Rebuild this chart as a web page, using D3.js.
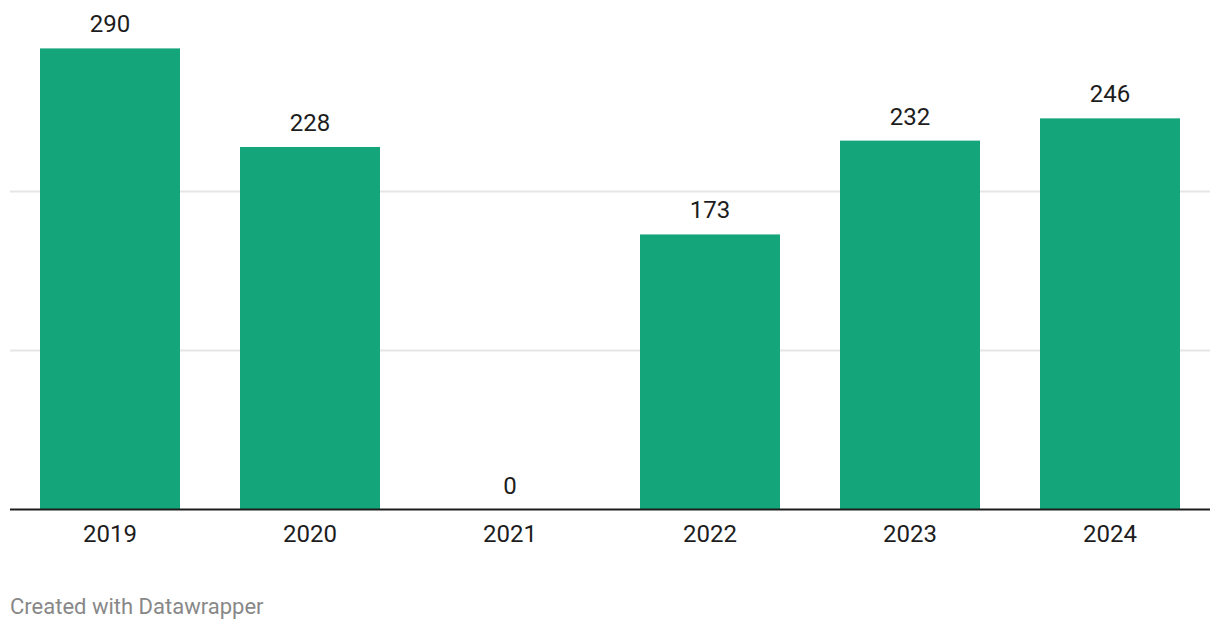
<!DOCTYPE html>
<html>
<head>
<meta charset="utf-8">
<script src="https://cdn.jsdelivr.net/npm/d3@7"></script>
<style>
  html, body { margin: 0; padding: 0; background: #fff; }
  svg { display: block; font-family: Roboto, "Noto Sans", sans-serif; }
</style>
</head>
<body>
<svg id="chart" width="1220" height="630"></svg>
<script>
const categories = ["2019", "2020", "2021", "2022", "2023", "2024"];
const values = [290, 228, 0, 173, 232, 246];
const gridTicks = [100, 200];
const credit = "Created with Datawrapper";

const svg = d3.select("#chart");
const x = d3.scaleBand().domain(categories).range([10, 1210]).paddingInner(0.3).paddingOuter(0.15);
const y = d3.scaleLinear().domain([0, 100]).range([509.5, 350.5]);

svg.append("g").selectAll("line").data(gridTicks).join("line")
  .attr("x1", 10).attr("x2", 1210)
  .attr("y1", d => y(d)).attr("y2", d => y(d))
  .attr("stroke", "#e6e6e6").attr("stroke-width", 2);

svg.append("g").selectAll("rect").data(values).join("rect")
  .attr("x", (d, i) => x(categories[i]))
  .attr("width", x.bandwidth())
  .attr("y", d => y(d))
  .attr("height", d => y(0) - y(d))
  .attr("fill", "#15a57a");

svg.append("g").selectAll("text").data(values).join("text")
  .attr("x", (d, i) => x(categories[i]) + x.bandwidth() / 2)
  .attr("y", d => y(d) - 16)
  .attr("text-anchor", "middle")
  .attr("font-size", 24)
  .attr("fill", "#1d1d1d")
  .text(d => d);

svg.append("line")
  .attr("x1", 10).attr("x2", 1210)
  .attr("y1", y(0)).attr("y2", y(0))
  .attr("stroke", "#1d1d1d").attr("stroke-width", 2);

const xAxis = d3.axisBottom(x).tickSize(0).tickPadding(0);
const gx = svg.append("g").attr("transform", `translate(0,${y(0)})`).call(xAxis);
gx.select(".domain").remove();
gx.selectAll("text")
  .attr("dy", null)
  .attr("y", 32)
  .attr("font-size", 24)
  .attr("font-family", "Roboto, sans-serif")
  .attr("fill", "#1d1d1d");

svg.append("text")
  .attr("x", 10).attr("y", 614)
  .attr("font-size", 22)
  .attr("fill", "#888888")
  .text(credit);
</script>
</body>
</html>
